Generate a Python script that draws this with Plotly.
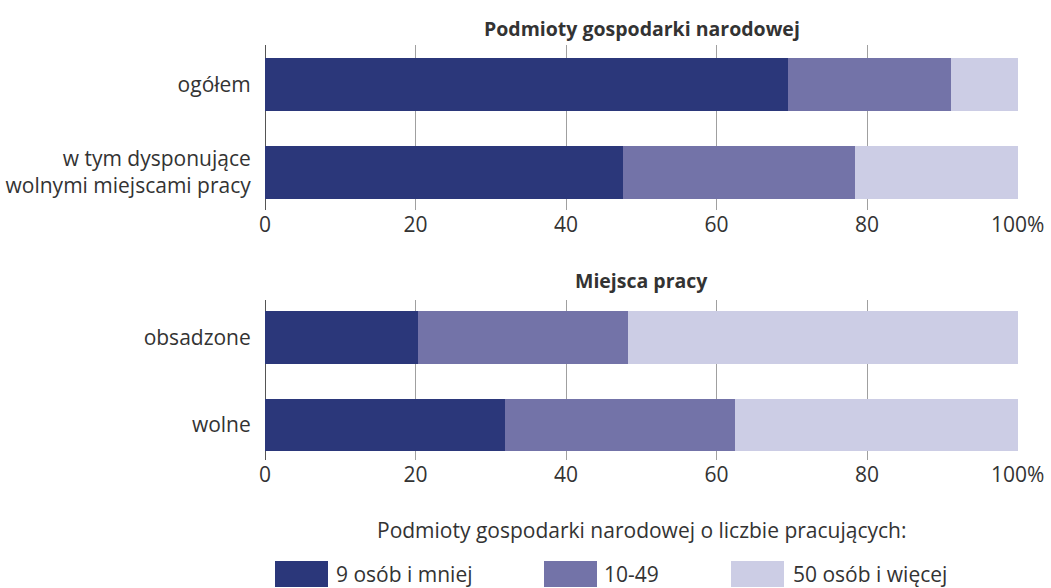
import plotly.graph_objects as go

# ---- data ----
cats_top = ["ogółem", "w tym dysponujące<br>wolnymi miejscami pracy"]
cats_bot = ["obsadzone", "wolne"]
series_names = ["9 osób i mniej", "10-49", "50 osób i więcej"]
top_small = [69.5, 47.5]
top_mid = [21.7, 30.9]
top_large = [8.8, 21.6]
bot_small = [20.3, 31.9]
bot_mid = [27.9, 30.6]
bot_large = [51.8, 37.5]
tick_vals = [0, 20, 40, 60, 80, 100]
tick_text = ["0", "20", "40", "60", "80", "100%"]
title_top = "Podmioty gospodarki narodowej"
title_bot = "Miejsca pracy"
legend_title = "Podmioty gospodarki narodowej o liczbie pracujących:"

colors = ["#2b377a", "#7373a8", "#cccde5"]
FONT = "Open Sans"
TXT = "#333333"
W, H = 1051, 588

fig = go.Figure()
top_vals = [top_small, top_mid, top_large]
bot_vals = [bot_small, bot_mid, bot_large]
for i in range(3):
    fig.add_trace(go.Bar(y=cats_top, x=top_vals[i], orientation="h", name=series_names[i],
                         marker=dict(color=colors[i], line=dict(width=0)), width=0.6,
                         xaxis="x", yaxis="y", showlegend=False, hoverinfo="x+y"))
    fig.add_trace(go.Bar(y=cats_bot, x=bot_vals[i], orientation="h", name=series_names[i],
                         marker=dict(color=colors[i], line=dict(width=0)), width=0.6,
                         xaxis="x2", yaxis="y2", showlegend=False, hoverinfo="x+y"))

L, R = 265, 1018
def px_x(p):
    return p / W
def px_y(p):
    return 1 - p / H

xcommon = dict(range=[0, 100.05], tickvals=tick_vals, ticktext=tick_text, showgrid=True,
               gridcolor="#a0a0a0", gridwidth=1, zeroline=True, zerolinecolor="#555555",
               zerolinewidth=1, showline=False, ticks="", fixedrange=True, automargin=False,
               tickfont=dict(family=FONT, size=21, color=TXT))
ycommon = dict(showgrid=False, zeroline=False, showline=False, ticks="outside", ticklen=9,
               tickcolor="rgba(0,0,0,0)", tickfont=dict(family=FONT, size=21, color=TXT),
               fixedrange=True, automargin=False)

fig.update_layout(
    width=W, height=H,
    margin=dict(l=0, r=0, t=0, b=0, autoexpand=False),
    paper_bgcolor="white", plot_bgcolor="white",
    barmode="stack", bargap=0.4,
    xaxis=dict(domain=[px_x(L), px_x(R)], anchor="y", **xcommon),
    yaxis=dict(domain=[px_y(210), px_y(45)], anchor="x", range=[1.43, -0.45],
               type="category", **ycommon),
    xaxis2=dict(domain=[px_x(L), px_x(R)], anchor="y2", **xcommon),
    yaxis2=dict(domain=[px_y(460), px_y(300)], anchor="x2", range=[1.4, -0.43],
                type="category", **ycommon),
    showlegend=False,
)

annotations = [
    dict(text="<b>" + title_top + "</b>", x=(L + R) / 2 / W, y=px_y(28), xref="paper", yref="paper",
         showarrow=False, font=dict(family=FONT, size=19.5, color=TXT), xanchor="center", yanchor="middle"),
    dict(text="<b>" + title_bot + "</b>", x=(L + R) / 2 / W, y=px_y(280), xref="paper", yref="paper",
         showarrow=False, font=dict(family=FONT, size=19.5, color=TXT), xanchor="center", yanchor="middle"),
    dict(text=legend_title, x=641 / W, y=px_y(530), xref="paper", yref="paper",
         showarrow=False, font=dict(family=FONT, size=21, color=TXT), xanchor="center", yanchor="middle"),
]
shapes = []
swatch_x = [275, 544, 731]
text_x = [334, 602, 791]
for i in range(3):
    shapes.append(dict(type="rect", xref="paper", yref="paper",
                       x0=swatch_x[i] / W, x1=(swatch_x[i] + 53) / W,
                       y0=px_y(587), y1=px_y(561), fillcolor=colors[i], line=dict(width=0)))
    annotations.append(dict(text=series_names[i], x=text_x[i] / W, y=px_y(574), xref="paper", yref="paper",
                            showarrow=False, font=dict(family=FONT, size=21, color=TXT),
                            xanchor="left", yanchor="middle"))
fig.update_layout(annotations=annotations, shapes=shapes)

fig.write_html("out.html", config={"displayModeBar": False},
               post_script="document.body.style.margin='0';document.body.style.padding='0';"
                           "document.body.style.overflow='hidden';"
                           "document.documentElement.style.overflow='hidden';")
